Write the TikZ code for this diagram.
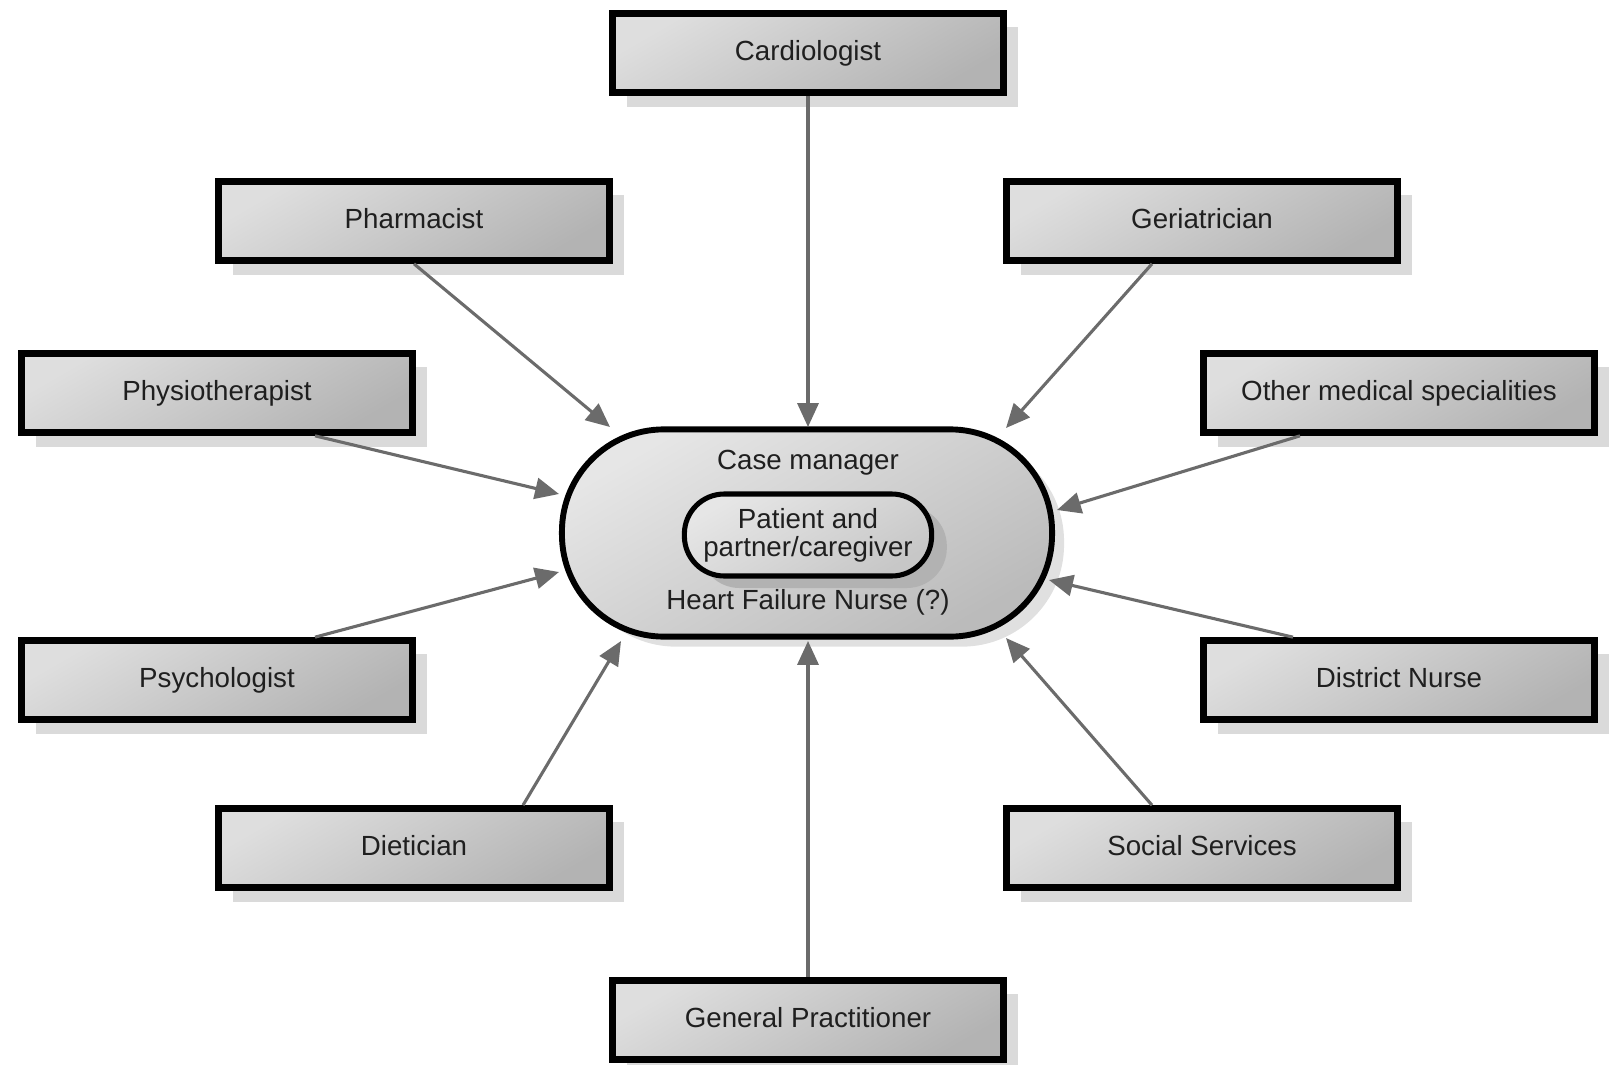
\documentclass[tikz,border=0pt]{standalone}
\usepackage{fontspec}
\setmainfont{Liberation Sans}
\usetikzlibrary{arrows.meta, shadows}

\definecolor{boxlight}{HTML}{DEDEDE}
\definecolor{boxdark}{HTML}{B3B3B3}
\definecolor{hublight}{HTML}{E6E6E6}
\definecolor{hubdark}{HTML}{BBBBBB}
\definecolor{linkgray}{HTML}{6B6B6B}
\definecolor{shadowgray}{HTML}{DADADA}

\begin{document}
\begin{tikzpicture}
[
	x						= 0.025cm,
	y						= -0.025cm, % one unit is one pixel, y runs downwards
	every node/.style		= {font = \fontsize{19.7}{20}\selectfont, text = black!88},
	member/.style			=
	{
		rectangle,
		draw,
		line width			= 4.6pt,
		minimum width		= 9.78cm,
		minimum height		= 1.98cm,
		top color			= boxlight,
		bottom color		= boxdark,
		shading angle		= 30,
		drop shadow			= {shadow xshift = 0.37cm, shadow yshift = -0.35cm, fill = shadowgray, opacity = 1},
		text height			= 1em,
		text depth			= 0pt,
	},
	hub/.style				=
	{
		rectangle,
		draw,
		line width			= 4.2pt,
		rounded corners		= 2.55cm,
		minimum width		= 12.25cm,
		minimum height		= 5.18cm,
		top color			= hublight,
		bottom color		= hubdark,
		shading angle		= 30,
		drop shadow			= {shadow xshift = 0.3cm, shadow yshift = -0.25cm, fill = black!12, opacity = 1},
	},
	core/.style				=
	{
		rectangle,
		draw,
		line width			= 3.6pt,
		rounded corners		= 1cm,
		minimum width		= 6.18cm,
		minimum height		= 2.05cm,
		align				= center,
		top color			= hublight,
		bottom color		= black!22,
		shading angle		= 30,
		drop shadow			= {shadow xshift = 0.38cm, shadow yshift = -0.3cm, fill = black!30, opacity = 1},
	},
	hubtext/.style			= {text height = 1em, text depth = 0pt},
	link/.style				=
	{
		draw				= linkgray,
		line width			= 2.2pt,
		-{Triangle[length = 17pt, width = 15pt]},
	},
]

\useasboundingbox (0,0) rectangle (1609,1064);
\clip (0,0) rectangle (1609,1064);

% the team round the case manager
\foreach \name/\where/\role in
{
	card/{808,53}/Cardiologist,
	pharm/{414,221}/Pharmacist,
	geri/{1202,221}/Geriatrician,
	phys/{217,393}/Physiotherapist,
	other/{1399,393}/Other medical specialities,
	psych/{217,680}/Psychologist,
	dist/{1399,680}/District Nurse,
	diet/{414,848}/Dietician,
	soc/{1202,848}/Social Services,
	gp/{808,1020}/General Practitioner%
}
{
	\node [member] (\name) at (\where) {\role};
}

\node [hub] (hub) at (807,533) {};
\node [hubtext] (manager) at (808,462) {Case manager};
\node [core] (patient) at (808,535) {Patient and\\partner/caregiver};
\node [hubtext] (nurse) at (808,602) {Heart Failure Nurse (?)};

% arrow tips, just off the border of the hub
\coordinate (tip card)	at (808,427);
\coordinate (tip pharm)	at (610,427);
\coordinate (tip geri)	at (1006,428);
\coordinate (tip phys)	at (559,494);
\coordinate (tip other)	at (1057,510);
\coordinate (tip psych)	at (559,572);
\coordinate (tip dist)	at (1049,580);
\coordinate (tip diet)	at (621,641);
\coordinate (tip soc)	at (1006,638);
\coordinate (tip gp)	at (808,641);

\draw [link] (card.south) -- (tip card);
\draw [link] (pharm.south) -- (tip pharm);
\draw [link] ([xshift = -1.25cm] geri.south) -- (tip geri);
\draw [link] ([xshift = 2.45cm] phys.south) -- (tip phys);
\draw [link] ([xshift = -2.475cm] other.south) -- (tip other);
\draw [link] ([xshift = 2.45cm] psych.north) -- (tip psych);
\draw [link] ([xshift = -2.65cm] dist.north) -- (tip dist);
\draw [link] ([xshift = 2.725cm] diet.north) -- (tip diet);
\draw [link] ([xshift = -1.25cm] soc.north) -- (tip soc);
\draw [link] (gp.north) -- (tip gp);

\end{tikzpicture}
\end{document}
